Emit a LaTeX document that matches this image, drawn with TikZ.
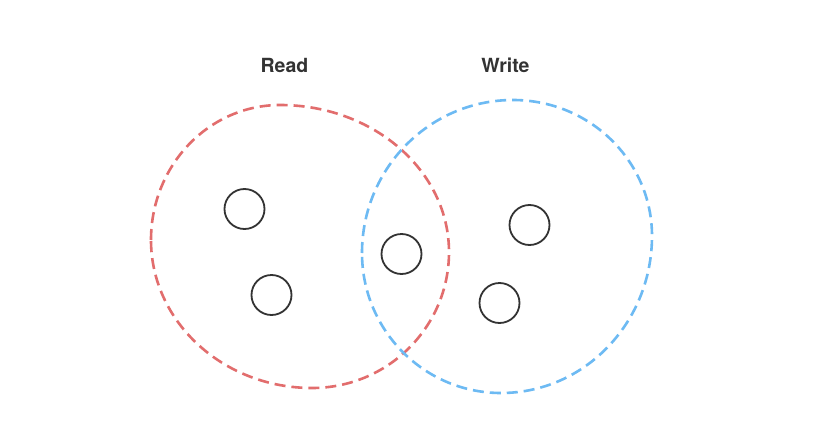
\documentclass[tikz,border=0pt]{standalone}
\usepackage{fontspec}
\setmainfont{TeX Gyre Heros}
\definecolor{readred}{HTML}{E26D6D}
\definecolor{writeblue}{HTML}{6DBAF3}
\definecolor{inkgray}{HTML}{333333}
\begin{document}
\begin{tikzpicture}[x=1pt,y=-1pt,
  setline/.style={line width=2.6pt,dash pattern=on 11pt off 6pt},
  item/.style={circle,draw=inkgray,line width=1.8pt,minimum size=40pt,inner sep=0pt},
  label/.style={text=inkgray,font=\bfseries\fontsize{19.5}{21}\selectfont,inner sep=0pt}]
\useasboundingbox[fill=white] (0,0) rectangle (828,442);
% Read set
\draw[setline,readred] (151,240)
  arc[start angle=180,end angle=270,x radius=129,y radius=135]
  arc[start angle=270,end angle=360,x radius=169,y radius=147]
  arc[start angle=0,end angle=90,x radius=137,y radius=136]
  arc[start angle=90,end angle=180,x radius=161,y radius=148] -- cycle;
% Write set
\draw[setline,writeblue] (362,253)
  arc[start angle=180,end angle=270,x radius=151,y radius=153]
  arc[start angle=270,end angle=360,x radius=139,y radius=136]
  arc[start angle=0,end angle=90,x radius=151,y radius=157]
  arc[start angle=90,end angle=180,x radius=139,y radius=140] -- cycle;
% labels
\node[label] (read) at (284.5,65.5) {Read};
\node[label] (write) at (505.5,65.5) {Write};
% items
\node[item] (r1) at (244.5,209) {};
\node[item] (r2) at (271.5,295) {};
\node[item] (rw) at (401.5,254) {};
\node[item] (w1) at (529.5,225) {};
\node[item] (w2) at (499.5,303) {};
\end{tikzpicture}
\end{document}
